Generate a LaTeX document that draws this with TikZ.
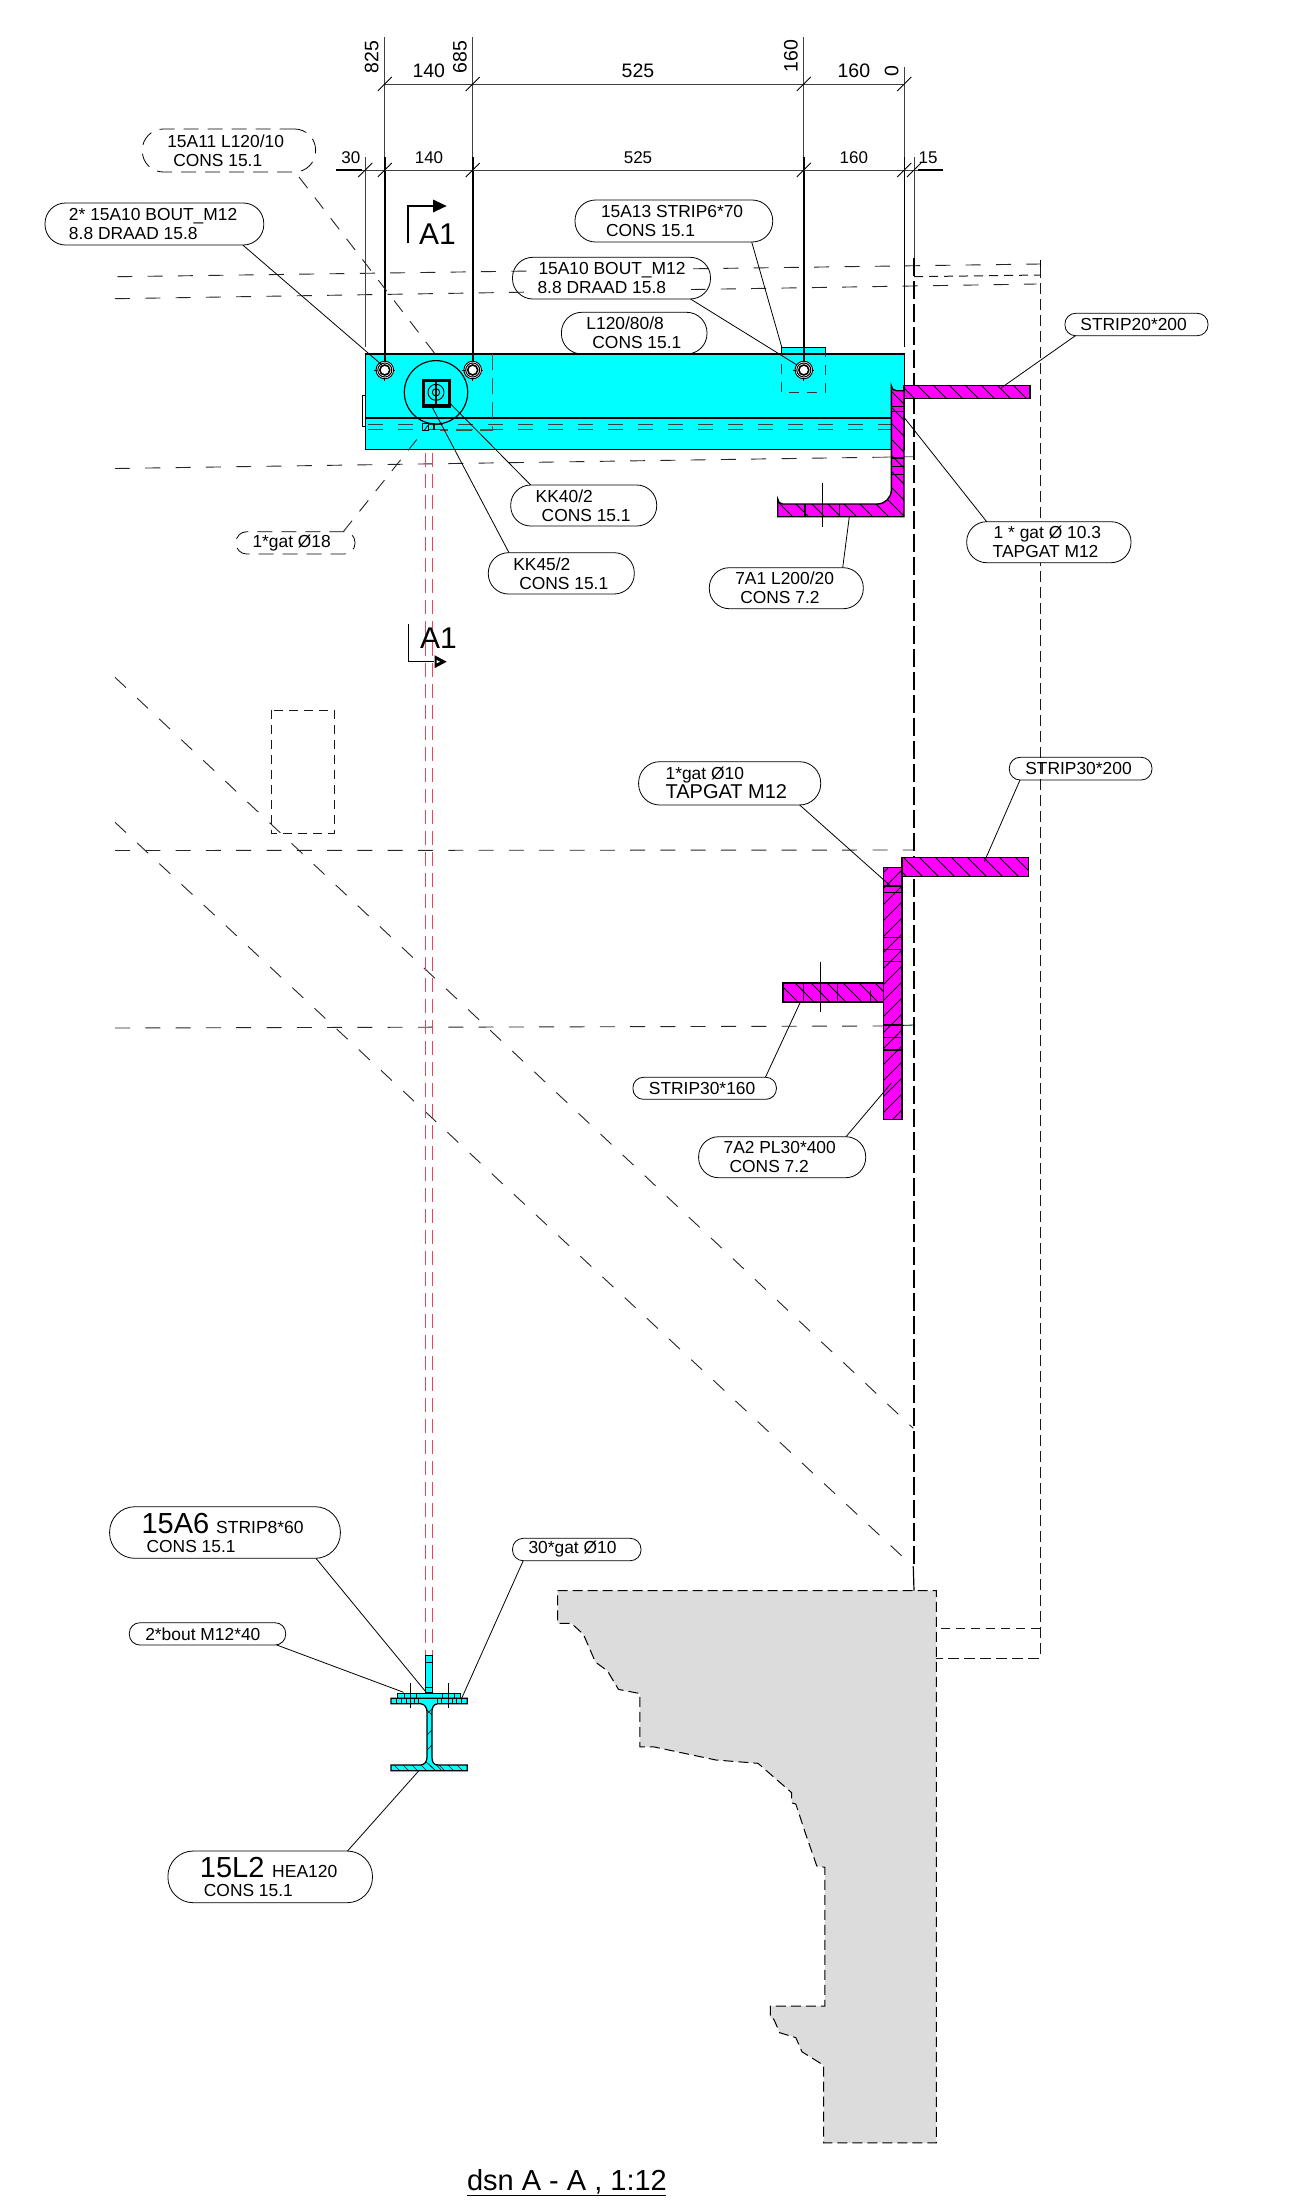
\documentclass[tikz,border=0pt]{standalone}
\usepackage{fontspec}
\setmainfont{Liberation Sans}
\usetikzlibrary{calc}
\definecolor{steelcy}{HTML}{00FFFF}
\definecolor{steelmg}{HTML}{FF00FF}
\definecolor{wallgrey}{HTML}{DCDCDC}
\definecolor{axisred}{HTML}{EE4455}
\tikzset{
 x=1pt,y=-1pt,
 leader/.style={draw=black,line width=0.8pt},
 dimln/.style={draw=black!75,line width=0.9pt},
 extln/.style={draw=black,line width=1.7pt},
 tick/.style={draw=black,line width=0.8pt},
 longdash/.style={draw=black!85,line width=0.9pt,dash pattern=on 15pt off 15.3pt},
 wall/.style={draw=black,line width=1pt,dash pattern=on 10pt off 5pt},
 vdash/.style={draw=black!90,line width=1pt,dash pattern=on 11pt off 5pt},
 vdashb/.style={draw=black,line width=1.6pt,dash pattern=on 18pt off 5pt},
 redax/.style={draw=axisred,line width=0.9pt,dash pattern=on 14pt off 7pt},
 part/.style={draw=black,line width=1.4pt},
 dimtxt/.style={inner sep=0pt,outer sep=0pt,font=\fontsize{17}{19}\selectfont},
 dimtxtb/.style={inner sep=0pt,outer sep=0pt,font=\fontsize{19.5}{21}\selectfont},
 secmark/.style={inner sep=0pt,outer sep=0pt,font=\fontsize{30}{32}\selectfont},
}
% \pill[opts]{name}{x1}{y1}{x2}{y2}{content}
\newcommand{\pill}[7][]{%
 \pgfmathsetmacro{\pw}{#5-#3}\pgfmathsetmacro{\ph}{#6-#4}%
 \pgfmathsetmacro{\pr}{\ph/2-0.5}%
 \node[draw=black,line width=0.8pt,inner sep=0pt,outer sep=0pt,minimum width=\pw pt,minimum height=\ph pt,
   rounded corners=\pr pt,font=\fontsize{17.4}{19}\selectfont,#1] (#2) at ({(#3+#5)/2},{(#4+#6)/2})
   {\parbox[c]{\pw pt}{\baselineskip=19pt\lineskiplimit=-20pt #7}};}
\newcommand{\tl}[1]{\hspace*{#1pt}}
\newcommand{\hatchdn}[5]{%
 \pgfmathtruncatemacro{\hs}{#1+#5}%
 \foreach \cc in {#1,\hs,...,#2}{\draw[black,line width=0.8pt] (\cc+#3,#3)--(\cc+#4,#4);}}
\newcommand{\hatchup}[5]{%
 \pgfmathtruncatemacro{\hs}{#1+#5}%
 \foreach \cc in {#1,\hs,...,#2}{\draw[black,line width=0.8pt] (\cc-#3,#3)--(\cc-#4,#4);}}
\begin{document}
\begin{tikzpicture}
\useasboundingbox (0,0) rectangle (1309,2201);
\fill[white] (0,0) rectangle (1309,2201);

% ---- wall
\path[fill=wallgrey] (557.5,1590.6)--(936.3,1590.6)--(936.3,2142.9)--(823.7,2142.9)--(823.7,2065.3)--(802,2051.8)--(795.8,2037.6)--(779.7,2032.7)--(773.8,2019.2)--(770.4,2018)--(770.4,2006.1)--(824.8,2006.1)--(824.8,1867.3)--(816.8,1866)--(805.5,1833.5)--(795.8,1804)--(791.7,1802.9)--(791.7,1792.7)--(758,1763.3)--(716,1760)--(654,1746.9)--(639.8,1746.9)--(639.8,1693.5)--(618.5,1689.4)--(607.5,1671)--(595.4,1662)--(583.4,1634.3)--(571.3,1623.3)--(557.5,1623.3)--cycle;
\draw[wall] (557.5,1590.6)--(936.3,1590.6)--(936.3,2142.9)--(823.7,2142.9)--(823.7,2065.3)--(802,2051.8)--(795.8,2037.6)--(779.7,2032.7)--(773.8,2019.2)--(770.4,2018)--(770.4,2006.1)--(824.8,2006.1)--(824.8,1867.3)--(816.8,1866)--(805.5,1833.5)--(795.8,1804)--(791.7,1802.9)--(791.7,1792.7)--(758,1763.3)--(716,1760)--(654,1746.9)--(639.8,1746.9)--(639.8,1693.5)--(618.5,1689.4)--(607.5,1671)--(595.4,1662)--(583.4,1634.3)--(571.3,1623.3)--(557.5,1623.3)--cycle;

% ---- main blue beam
\fill[steelcy] (365.3,354) rectangle (904.3,449.3);
\fill[steelcy] (781.6,347.7) rectangle (825.7,354);
\draw[part] (781.6,354)--(781.6,347.7)--(825.7,347.7)--(825.7,354);
\draw[part,line width=1.5pt] (365.3,354) rectangle (904.3,449.3);
\draw[part] (365.3,418)--(904.3,418);
\draw[part,line width=1pt] (362,395) rectangle (365.3,426.7);
\foreach \yy in {424,429}{\draw[draw=black!75,line width=1pt,dash pattern=on 15pt off 15pt] (368,\yy)--(904,\yy);}
\draw[draw=black!70,line width=1.2pt,dash pattern=on 16pt off 8pt] (492.3,354)--(492.3,430)--(440,430);
\draw[draw=black!80,line width=1pt,dash pattern=on 10pt off 8pt,dash phase=8pt] (781.6,354)--(781.6,392.3)--(825.7,392.3)--(825.7,354);
\draw[line width=1pt] (422.7,423) rectangle (428,430);
\draw[line width=1.2pt] (434,423)--(434,430);

% ---- long dashed lines
\draw[longdash] (117.4,276.7)--(1040,264);
\draw[black,line width=0.8pt] (1040,260)--(1040,267);
\draw[longdash] (115,298.7)--(1036.7,284);
\draw[longdash] (115,468.5)--(880,457.2);
\draw[black!70,line width=0.8pt] (880,457.2)--(914,456.7);
\draw[longdash] (115,850.5)--(914,850);
\draw[longdash] (115,1028)--(884,1026);
\draw[black,line width=0.8pt] (884,1026)--(914,1025);
\draw[longdash] (115,677.3)--(913.3,1428.3);
\draw[longdash] (115,822.3)--(913.3,1566.7);
\draw[black,line width=1.2pt] (913.3,1566.7)--(914,1590.6);
\draw[draw=black!90,line width=1pt,dash pattern=on 9pt off 6pt] (914,276.7)--(1040,275);
\draw[vdash] (1040,267)--(1040,1658.4)--(936.3,1658.4);
\draw[draw=black!90,line width=1pt,dash pattern=on 9pt off 6pt] (1040,1628)--(936.3,1628);
\draw[vdashb] (914,258)--(914,1566);
% dashed box
\draw[draw=black!90,line width=1pt,dash pattern=on 9pt off 6pt] (271.7,710) rectangle (334,833.3);

% ---- red axis
\draw[redax] (425.3,453)--(425.3,1655);
\draw[redax] (432.3,453)--(432.3,1655);

% ---- dimension lines
\foreach \xx in {384.8,472.7,803.8}{
 \draw[dimln] (\xx,37)--(\xx,157);
 \draw[extln] (\xx,157)--(\xx,368);}
\draw[dimln] (904.3,67)--(904.3,157);
\draw[extln,line width=1.2pt] (904.3,157)--(904.3,347);
\draw[dimln] (365.3,157)--(365.3,347);
\draw[dimln] (914,157)--(914,258);
\draw[dimln] (384.8,84)--(904.3,84);
\draw[dimln] (336,170)--(943.4,170);
\draw[line width=1.4pt] (336,170)--(362,170);
\draw[line width=1.4pt] (918,170)--(943.4,170);
\foreach \xx in {384.8,472.7,803.8,904.3}{\draw[tick] (\xx-7,91)--(\xx+7,77);}
\foreach \xx in {365.3,384.8,472.7,803.8,904.3,914}{\draw[tick] (\xx-7,177)--(\xx+7,163);}

\node[dimtxtb,rotate=90] (d825) at (371.6,57) {825};
\node[dimtxtb] (d140a) at (428.8,71) {140};
\node[dimtxtb,rotate=90] (d685) at (459.9,57) {685};
\node[dimtxtb] (d525a) at (638,71) {525};
\node[dimtxtb,rotate=90] (d160r) at (790.8,56) {160};
\node[dimtxtb] (d160a) at (853.9,71) {160};
\node[dimtxtb,rotate=90] (d0) at (891.7,71) {0};
\node[dimtxt] (d30) at (350.8,158) {30};
\node[dimtxt] (d140b) at (429,158) {140};
\node[dimtxt] (d525b) at (638,158) {525};
\node[dimtxt] (d160b) at (853.9,158) {160};
\node[dimtxt] (d15) at (928,158) {15};

% ---- bolts
\foreach \bx/\bn in {384.8/a,472.7/b,803.8/c}{
 \coordinate (bolt\bn) at (\bx,370);
 \fill[white] (bolt\bn) circle (9);
 \draw[line width=0.9pt] (bolt\bn) circle (8.8);
 \draw[line width=1pt] (bolt\bn) circle (7);
 \draw[line width=1.6pt] (bolt\bn) circle (5);
 \draw[line width=0.8pt] ($(bolt\bn)+(-10.5,0)$)--($(bolt\bn)+(-8,0)$) ($(bolt\bn)+(8,0)$)--($(bolt\bn)+(10.5,0)$);
 \draw[line width=0.8pt] ($(bolt\bn)+(0,8)$)--($(bolt\bn)+(0,10.5)$);
}
% centre fitting
\coordinate (cfit) at (436,392.3);
\draw[line width=1.2pt] (cfit) circle (31.7);
\draw[line width=3.4pt] (423.5,380.5) rectangle (449.3,406);
\draw[line width=0.9pt] (cfit) circle (8) (cfit) circle (3.7);
\draw[line width=1.2pt] (436,380)--(436,406);

% section marks
\draw[line width=1.4pt] (408,243)--(408,206)--(434,206);
\fill[black] (433,199.5)--(446.6,206)--(433,212.5)--cycle;
\node[secmark,anchor=south west] (aa) at (419,244.5) {A1};
\draw[line width=1.4pt] (408.3,624.3)--(408.3,661.7)--(434,661.7);
\fill[black] (434.5,655.2)--(446.7,661.7)--(434.5,668.2)--cycle;
\fill[white] (436.5,660)--(440,661.7)--(436.5,663.4)--cycle;
\node[secmark,anchor=south west] (ab) at (420,648) {A1};

% ---- magenta: top strip and angle
\begin{scope}
 \clip (904,385.7) rectangle (1030,398.3);
 \fill[steelmg] (904,385.7) rectangle (1030,398.3);
 \hatchdn{500}{660}{385}{399}{16}
\end{scope}
\draw[part] (904,385.7) rectangle (1030,398.3);
\def\anglepath{(904,390.7)--(896.3,390.7)arc[start angle=90,end angle=180,radius=5]--(891.3,490)arc[start angle=0,end angle=90,radius=14]--(782.7,504)arc[start angle=90,end angle=180,radius=5]--(777.7,516.7)--(904,516.7)--cycle}
\begin{scope}
 \clip \anglepath;
 \fill[steelmg] (760,380) rectangle (910,520);
 \hatchdn{260}{520}{380}{520}{16}
 \draw[line width=0.9pt] (885,406.7)--(910,406.7) (885,411.7)--(910,411.7);
 \draw[line width=1.1pt] (885,458)--(910,458) (885,466.7)--(910,466.7) (885,474.3)--(910,474.3);
 \draw[line width=1.1pt] (805,500)--(805,520) (839.3,500)--(839.3,520);
\end{scope}
\draw[part] \anglepath;
\draw[line width=0.9pt] (822,482.7)--(822,526.7);

% ---- magenta: lower plate and strips
\begin{scope}
 \clip (902,857.7) rectangle (1028.2,876.7);
 \fill[steelmg] (902,857.7) rectangle (1028.2,876.7);
 \hatchdn{30}{180}{857}{877}{16}
\end{scope}
\draw[part] (902,857.7) rectangle (1028.2,876.7);
\begin{scope}
 \clip (883.6,867.3) rectangle (902,1119.3);
 \fill[steelmg] (883.6,867.3) rectangle (902,1119.3);
 \hatchup{1740}{2020}{867}{1120}{16}
 \draw[line width=1.2pt] (880,886)--(905,886) (880,892.7)--(905,892.7) (880,937.3)--(905,937.3) (880,949.3)--(905,949.3) (880,961.7)--(905,961.7) (880,1025)--(905,1025) (880,1037.7)--(905,1037.7) (880,1050)--(905,1050);
\end{scope}
\draw[part] (883.6,867.3) rectangle (902,1119.3);
\begin{scope}
 \clip (782.9,983) rectangle (883.6,1002);
 \fill[steelmg] (782.9,983) rectangle (883.6,1002);
 \hatchdn{-220}{-90}{983}{1002}{16}
 \draw[line width=1.1pt] (803.2,980)--(803.2,1005) (837.9,980)--(837.9,1005);
 \draw[line width=0.8pt] (870.7,990)--(870.7,1005);
\end{scope}
\draw[part] (782.9,983) rectangle (883.6,1002);
\draw[line width=0.9pt] (820.7,961.7)--(820.7,1011.7);

% ---- HEA section
\fill[steelcy] (425.7,1655.7) rectangle (432.7,1693);
\draw[part] (425.7,1655.7) rectangle (432.7,1693);
\draw[line width=0.8pt] (425.7,1662.3)--(432.7,1662.3) (425.7,1687.7)--(432.7,1687.7);
\fill[steelcy] (397.3,1693.3) rectangle (460.7,1698.3);
\draw[line width=1.1pt] (397.3,1693.3) rectangle (460.7,1698.3);
\def\heapath{(391,1698.3)--(467.3,1698.3)--(467.3,1703.7)--(438,1703.7) .. controls (433,1704) and (432,1708) .. (432,1712)--(432,1757) .. controls (432,1761) and (433,1765) .. (438,1765)--(467.3,1765)--(467.3,1770.7)--(391,1770.7)--(391,1765)--(420.5,1765) .. controls (425,1765) and (427,1761) .. (427,1757)--(427,1712) .. controls (427,1708) and (425,1704) .. (420.5,1703.7)--(391,1703.7)--cycle}
\begin{scope}
 \clip \heapath;
 \fill[steelcy] (385,1695) rectangle (470,1775);
 \foreach \cc in {-1380,-1371,...,-1230}{\draw[black,line width=0.6pt] (\cc+1765,1765)--(\cc+1771,1771);}
 \draw[black,line width=0.6pt] (420,1703)--(432,1715) (438,1703)--(428,1713) (427,1735)--(432,1730) (427,1750)--(432,1745) (424,1760)--(436,1771) (432,1760)--(442,1771);
\end{scope}
\draw[draw=black,line width=1.2pt] \heapath;
\foreach \xx in {396,401,406,414,418,437,441,452,456,461}{\draw[black,line width=1pt] (\xx,1698.5)--(\xx,1703.5);}
\draw[line width=0.8pt] (404,1693.3)--(404,1698.3) (416,1693.3)--(416,1698.3) (442,1693.3)--(442,1698.3) (454,1693.3)--(454,1698.3);
\draw[line width=0.9pt] (410,1683.3)--(410,1708.3) (448,1683.3)--(448,1708.3);

% ---- targets of the leader lines
\coordinate (tA10a) at (382,365);
\coordinate (tA13) at (782,348);
\coordinate (tA10b) at (797,365);
\coordinate (tStr20) at (1001,388);
\coordinate (tHole) at (904,417.3);
\coordinate (tA1) at (849.3,516.7);
\coordinate (tKK40) at (450.7,404);
\coordinate (tKK45) at (432.3,407.3);
\coordinate (tGat18) at (430,423);
\coordinate (tA11) at (436.7,356);
\coordinate (tGat10) at (891.4,886.7);
\coordinate (tStr30) at (984.3,861.7);
\coordinate (tStr160) at (800.4,1002);
\coordinate (tA2) at (891.4,1083);
\coordinate (tA6) at (425.7,1691.7);
\coordinate (tBout) at (403.6,1692.3);
\coordinate (tGat30) at (461.8,1698);
\coordinate (tL2) at (418.6,1771);

% ---- labels
\fill[white] (529,260) rectangle (691,296);
\pill[dash pattern=on 15pt off 9pt]{lA11}{142.3}{129}{315.6}{172}{\tl{25}15A11 L120/10\\\tl{31}CONS 15.1}
\pill{lA10a}{45}{203}{263.8}{245}{\tl{24}2* 15A10 BOUT\_M12\\\tl{24}8.8 DRAAD 15.8}
\pill{lA13}{575}{200}{772.7}{242}{\tl{26}15A13 STRIP6*70\\\tl{31}CONS 15.1}
\pill{lA10b}{512.5}{257.3}{710.5}{299}{\tl{26}15A10 BOUT\_M12\\\tl{25}8.8 DRAAD 15.8}
\pill{lL120}{561.4}{312.3}{707}{354}{\tl{25}L120/80/8\\\tl{31}CONS 15.1}
\pill{lStr20}{1064.9}{313.3}{1208}{335.7}{\tl{15.5}STRIP20*200}
\pill[fill=white]{lHole}{966.7}{521.7}{1131}{562.7}{\tl{27}1 * gat Ø 10.3\\\tl{26}TAPGAT M12}
\pill{lA1}{709.3}{567.7}{863.3}{608.7}{\tl{26}7A1 L200/20\\\tl{31}CONS 7.2}
\pill{lKK40}{510.7}{485}{656.7}{526}{\tl{25}KK40/2\\\tl{31}CONS 15.1}
\pill{lKK45}{488.3}{552.7}{634.3}{594}{\tl{25}KK45/2\\\tl{31}CONS 15.1}
\pill[dash pattern=on 15pt off 9pt]{lGat18}{236}{531.7}{355}{554}{\tl{16.5}1*gat Ø18}
\pill{lGat10}{638.6}{761.7}{820.7}{805}{\tl{27}1*gat Ø10\\\tl{27}\fontsize{20}{19}\selectfont TAPGAT M12}
\pill{lStr30}{1009.3}{757.3}{1152}{780}{\tl{16}STRIP30*200}
\pill{lStr160}{632.9}{1077.3}{776.4}{1099.3}{\tl{16}STRIP30*160}
\pill{lA2}{698.6}{1136.7}{865.7}{1177.7}{\tl{25}7A2 PL30*400\\\tl{31}CONS 7.2}
\pill{lA6}{109.6}{1506.7}{340.4}{1558.3}{\tl{32}{\fontsize{29}{24}\selectfont 15A6}\hspace{2pt} {\fontsize{17.5}{19}\selectfont STRIP8*60}\\\tl{37}CONS 15.1}
\pill{lBout}{129.3}{1622.7}{285.7}{1645}{\tl{16}2*bout M12*40}
\pill{lGat30}{512.5}{1538.3}{641}{1560.7}{\tl{16}30*gat Ø10}
\pill{lL2}{167.9}{1851}{372.5}{1902.7}{\tl{32}{\fontsize{29}{24}\selectfont 15L2}\hspace{3pt} {\fontsize{17.5}{19}\selectfont HEA120}\\\tl{36}CONS 15.1}

% ---- leaders
\draw[leader] ($(lA10a.south east)+(-21,0)$)--(tA10a);
\draw[leader] ($(lA13.south east)+(-21,0)$)--(tA13);
\draw[leader] ($(lA10b.south east)+(-20,0)$)--(tA10b);
\draw[leader] ($(lStr20.south west)+(10.5,0)$)--(tStr20);
\draw[leader] ($(lHole.north west)+(20,0)$)--(tHole);
\draw[leader] ($(lA1.north east)+(-20.6,0)$)--(tA1);
\draw[leader] ($(lKK40.north west)+(20,0)$)--(tKK40);
\draw[leader] ($(lKK45.north west)+(20.7,0)$)--(tKK45);
\draw[longdash,dash pattern=on 14pt off 12pt] ($(lA11.south east)+(-16.6,5)$)--(tA11);
\draw[longdash,dash pattern=on 14pt off 12pt] ($(lGat18.north east)+(-11.7,0)$)--(tGat18);
\draw[leader] ($(lGat10.south east)+(-21,0)$)--(tGat10);
\draw[leader] ($(lStr30.south west)+(10.7,0)$)--(tStr30);
\draw[leader] ($(lStr160.north east)+(-11,0)$)--(tStr160);
\draw[leader] ($(lA2.north east)+(-19.7,0)$)--(tA2);
\draw[leader] ($(lA6.south east)+(-24.4,0)$)--(tA6);
\draw[leader] ($(lBout.south east)+(-8.9,0)$)--(tBout);
\draw[leader] ($(lGat30.south west)+(10.7,0)$)--(tGat30);
\draw[leader] ($(lL2.north east)+(-25,0)$)--(tL2);

% ---- title
\node[inner sep=0pt,outer sep=0pt,anchor=base west,font=\fontsize{29}{31}\selectfont] (title) at (467,2190.6) {dsn A - A , 1:12};
\draw[line width=1.6pt] (467,2195.5)--(665.5,2195.5);
\end{tikzpicture}
\end{document}
